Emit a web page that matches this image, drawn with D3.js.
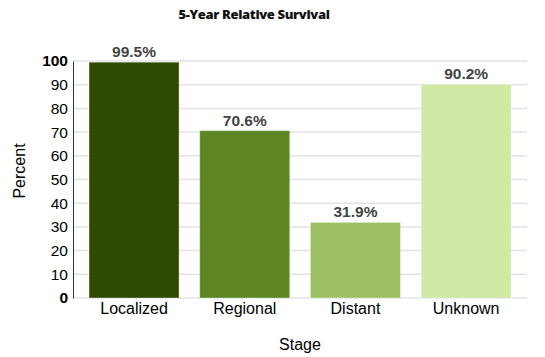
<!DOCTYPE html>
<html><head><meta charset="utf-8">
<script src="https://cdn.jsdelivr.net/npm/d3@7"></script>
<style>body{margin:0;background:#fff}</style>
</head><body>
<svg id="c" width="545" height="357"></svg>
<script>
const categories = ["Localized", "Regional", "Distant", "Unknown"];
const values = [99.5, 70.6, 31.9, 90.2];
const colors = ["#2f4b02", "#5e8524", "#9dc062", "#d1e9a5"];
const yTicks = [0, 10, 20, 30, 40, 50, 60, 70, 80, 90, 100];

(function () {
const svg = d3.select("#c");
const pLeft = 73, pRight = 527, pTop = 61, pBottom = 298;
const y = d3.scaleLinear().domain([0, 100]).range([pBottom, pTop]);
const x = d3.scaleBand().domain(categories).range([78.7, 521.5]).paddingInner(0.187).paddingOuter(0.0935);

// gridlines
svg.append("g").selectAll("line").data(yTicks).join("line")
  .attr("x1", pLeft).attr("x2", pRight)
  .attr("y1", d => y(d)).attr("y2", d => y(d))
  .attr("stroke", "#e3e3e3").attr("stroke-width", 1.5);

// bars
svg.append("g").selectAll("rect").data(values).join("rect")
  .attr("x", (d, i) => x(categories[i]))
  .attr("width", x.bandwidth())
  .attr("y", d => y(d))
  .attr("height", d => y(0) - y(d))
  .attr("fill", (d, i) => colors[i])
  .attr("stroke", "rgba(255,255,255,0.35)").attr("stroke-width", 1);

// value labels
svg.append("g").selectAll("text").data(values).join("text")
  .attr("x", (d, i) => x(categories[i]) + x.bandwidth() / 2)
  .attr("y", d => y(d) - 5)
  .attr("text-anchor", "middle")
  .attr("font-family", "Liberation Sans, Arial, sans-serif")
  .attr("font-weight", "bold").attr("font-size", 15.5)
  .attr("fill", "#444")
  .text(d => d.toFixed(1) + "%");

// y axis
const yAxis = d3.axisLeft(y).tickValues(yTicks).tickSize(0).tickPadding(5);
const gy = svg.append("g").attr("transform", `translate(${pLeft},0)`).call(yAxis);
gy.select(".domain").attr("stroke", "#333").attr("stroke-width", 1);
gy.selectAll("text")
  .attr("font-family", "Liberation Sans, Arial, sans-serif")
  .attr("font-size", 15.5).attr("fill", "#000")
  .attr("font-weight", d => (d === 0 || d === 100) ? "bold" : "normal");

// x axis
const xAxis = d3.axisBottom(x).tickSize(0).tickPadding(5);
const gx = svg.append("g").attr("transform", `translate(0,${pBottom})`).call(xAxis);
gx.select(".domain").remove();
gx.selectAll("text")
  .attr("font-family", "Liberation Sans, Arial, sans-serif")
  .attr("font-size", 16).attr("fill", "#000");

// axis titles
svg.append("text").attr("x", 300).attr("y", 350).attr("text-anchor", "middle")
  .attr("font-family", "Liberation Sans, Arial, sans-serif").attr("font-size", 16)
  .text("Stage");
svg.append("text").attr("transform", "translate(25,171) rotate(-90)").attr("text-anchor", "middle")
  .attr("font-family", "Liberation Sans, Arial, sans-serif").attr("font-size", 16)
  .text("Percent");

// title
svg.append("text").attr("x", 254).attr("y", 19).attr("text-anchor", "middle")
  .attr("font-family", "Open Sans, sans-serif").attr("font-weight", 800).attr("font-size", 13)
  .attr("fill", "#111").attr("letter-spacing", -0.35)
  .text("5-Year Relative Survival");
})();
</script>
</body></html>
